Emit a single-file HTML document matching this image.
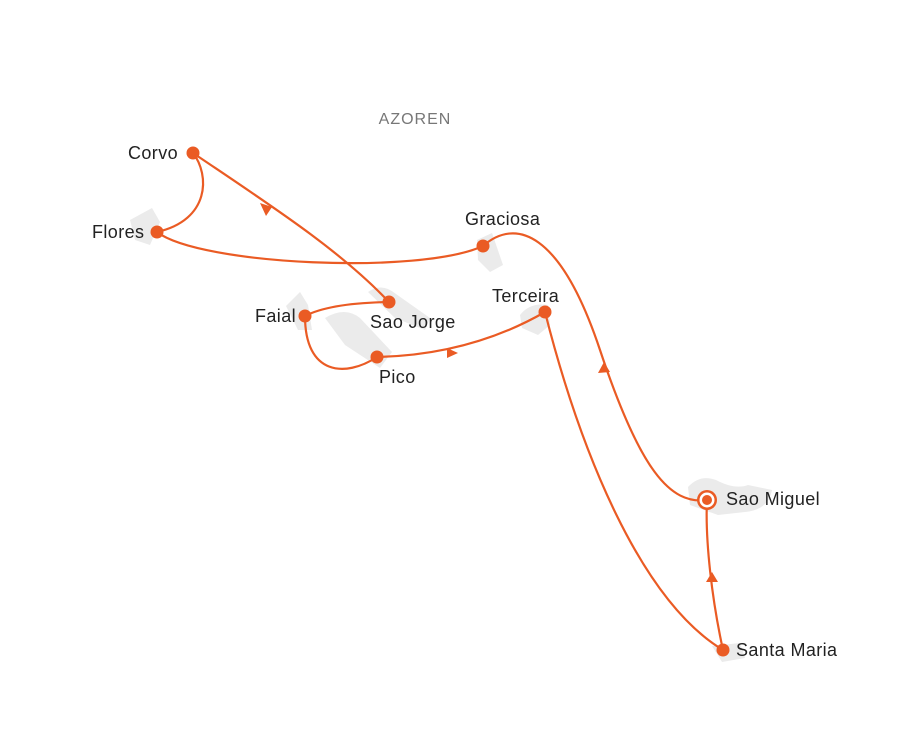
<!DOCTYPE html>
<html><head><meta charset="utf-8"><style>
html,body{margin:0;padding:0;background:#fff;}
svg{display:block;}
text{font-family:"Liberation Sans",sans-serif;font-size:18px;fill:#222;letter-spacing:0.4px;}
</style></head><body>
<svg width="900" height="750" viewBox="0 0 900 750">
<g fill="#ebebeb">
<path d="M130,220 L152,208 L160,222 L150,245 L135,240 Z"/>
<path d="M477,240 L492,233 L503,265 L490,272 L478,260 Z"/>
<path d="M368,292 Q382,282 396,294 L430,318 L425,330 L395,318 Z"/>
<path d="M286,306 L300,292 L308,305 L312,330 L298,330 Z"/>
<path d="M325,318 Q345,306 360,318 L392,352 L380,368 L345,345 Z"/>
<path d="M520,315 Q530,302 548,305 L550,325 L538,335 L522,328 Z"/>
<path d="M688,487 Q700,474 716,480 Q735,490 748,485 L772,490 Q768,510 745,512 L718,515 L690,505 Z"/>
<path d="M712,646 L740,643 L745,658 L722,662 Z"/>
</g>
<g fill="none" stroke="#ea5b24" stroke-width="2.2">
<path d="M193,153 C210,175 210,220 157,232"/>
<path d="M157,232 C200,265 420,275 483,246"/>
<path d="M483,246 C515,218 560,230 600,350 C640,470 670,505 707,500"/>
<path d="M193,153 C270,205 340,250 389,302"/>
<path d="M389,302 Q330,303 305,316"/>
<path d="M305,316 C305,375 345,378 377,357"/>
<path d="M377,357 Q470,355 545,312"/>
<path d="M545,312 C580,450 640,600 723,650"/>
<path d="M723,650 C712,600 705,540 707,500"/>
</g>
<g fill="#ea5b24">
<polygon points="260,203 272,207 266,216"/>
<polygon points="604,362 598,373 610,372"/>
<polygon points="458,353 447,348 447,358"/>
<polygon points="712,572 706,582 718,582"/>
<circle cx="193" cy="153" r="6.5"/>
<circle cx="157" cy="232" r="6.5"/>
<circle cx="483" cy="246" r="6.5"/>
<circle cx="389" cy="302" r="6.5"/>
<circle cx="305" cy="316" r="6.5"/>
<circle cx="377" cy="357" r="6.5"/>
<circle cx="545" cy="312" r="6.5"/>
<circle cx="723" cy="650" r="6.5"/>
<circle cx="707" cy="500" r="10"/>
<circle cx="707" cy="500" r="7.5" fill="#fff"/>
<circle cx="707" cy="500" r="5"/>
</g>
<text x="415" y="124" text-anchor="middle" style="fill:#777;letter-spacing:1px;font-size:16px">AZOREN</text>
<text x="128" y="159">Corvo</text>
<text x="92" y="238">Flores</text>
<text x="465" y="225">Graciosa</text>
<text x="492" y="302">Terceira</text>
<text x="255" y="322">Faial</text>
<text x="370" y="328">Sao Jorge</text>
<text x="379" y="383">Pico</text>
<text x="726" y="505">Sao Miguel</text>
<text x="736" y="656">Santa Maria</text>
</svg>
</body></html>
